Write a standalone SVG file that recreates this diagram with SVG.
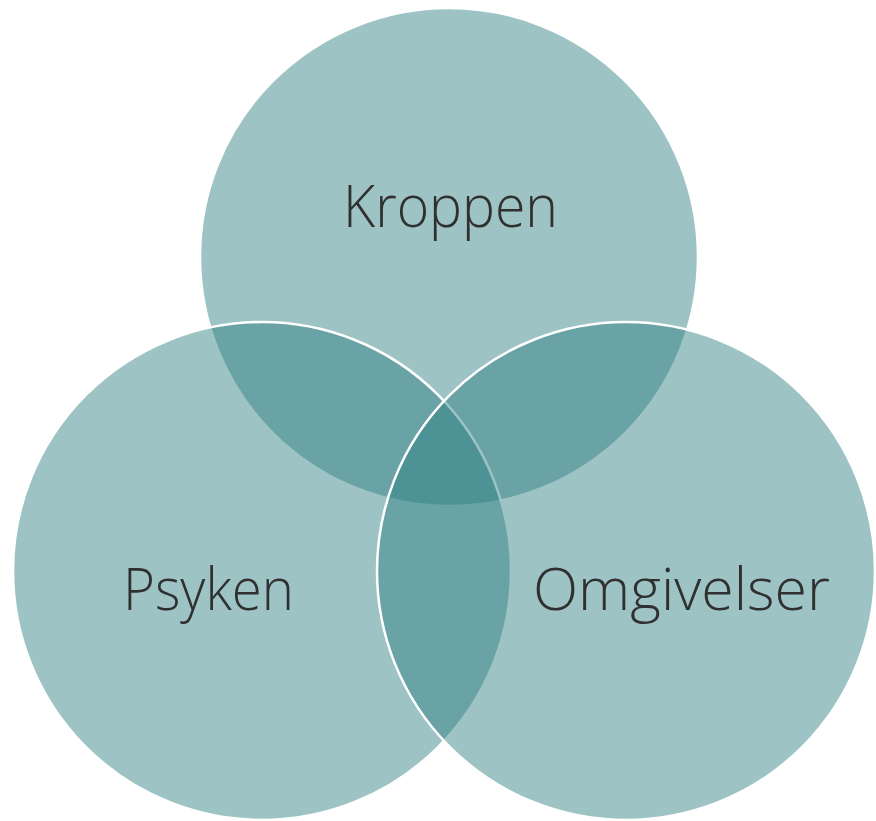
<svg xmlns="http://www.w3.org/2000/svg" width="876" height="821" viewBox="0 0 876 821">
<style>
.c{fill:#2E7F82;fill-opacity:0.47;stroke:#fff;stroke-width:2.5}
.t{font-family:"Open Sans","Noto Sans","Liberation Sans",sans-serif;font-weight:300;font-size:59px;fill:#303030;text-anchor:middle}
</style>
<rect width="876" height="821" fill="#fff"/>
<g id="kroppen"><circle class="c" cx="449" cy="257" r="249"/><text class="t" x="450.5" y="227" textLength="215" lengthAdjust="spacingAndGlyphs">Kroppen</text></g>
<g id="psyken"><circle class="c" cx="262" cy="571" r="249"/><text class="t" x="208.5" y="610" textLength="171" lengthAdjust="spacingAndGlyphs">Psyken</text></g>
<g id="omgivelser"><circle class="c" cx="626" cy="571" r="249"/><text class="t" x="681.5" y="610" textLength="297" lengthAdjust="spacingAndGlyphs">Omgivelser</text></g>
<g id="connectors"/>
</svg>
